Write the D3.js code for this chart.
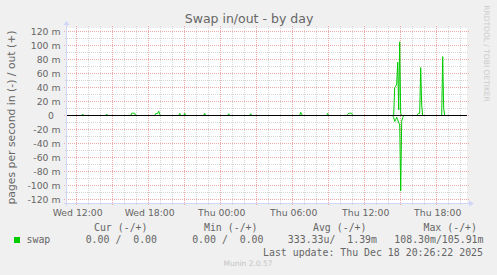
<!DOCTYPE html>
<html>
<head>
<meta charset="utf-8">
<script src="https://cdn.jsdelivr.net/npm/d3@7"></script>
<style>
  body { margin: 0; background: #f0f0f0; }
  svg { display: block; }
  text { font-family: "DejaVu Sans", sans-serif; fill: #666; }
  .mono { font-family: "DejaVu Sans Mono", monospace; white-space: pre; }
</style>
</head>
<body>
<div id="chart"></div>
<script>
// swap out (+), pages per second, milli units; samples not listed are 0
const outTimes = [
  "2025-12-17 12:30", "2025-12-17 14:30",
  "2025-12-17 16:35", "2025-12-17 16:40", "2025-12-17 16:45", "2025-12-17 16:50",
  "2025-12-17 18:35", "2025-12-17 18:40", "2025-12-17 18:45", "2025-12-17 18:50", "2025-12-17 18:55",
  "2025-12-17 20:35", "2025-12-17 21:00", "2025-12-17 22:40",
  "2025-12-18 00:40", "2025-12-18 02:30", "2025-12-18 06:40", "2025-12-18 06:45", "2025-12-18 08:55",
  "2025-12-18 10:35", "2025-12-18 10:40", "2025-12-18 10:45", "2025-12-18 10:50", "2025-12-18 10:55",
  "2025-12-18 14:30", "2025-12-18 14:35", "2025-12-18 14:40", "2025-12-18 14:45", "2025-12-18 14:50",
  "2025-12-18 14:55", "2025-12-18 15:00",
  "2025-12-18 16:25", "2025-12-18 16:30", "2025-12-18 16:35", "2025-12-18 16:40", "2025-12-18 16:45",
  "2025-12-18 18:30", "2025-12-18 18:35"
];
const outValues = [
  2, 2,
  3.3, 3.3, 3.3, 3.3,
  2.9, 2.9, 2.9, 6.2, 2,
  3, 3, 3,
  2.5, 2.5, 4.5, 2, 3,
  1.5, 3.3, 3.3, 3.3, 3.3,
  40, 42, 45, 76.5, 8,
  105.9, 3,
  2, 3, 3, 68.8, 15,
  84.6, 10
];
// swap in (-)
const inTimes = [
  "2025-12-18 14:25", "2025-12-18 14:30", "2025-12-18 14:35", "2025-12-18 14:40", "2025-12-18 14:45",
  "2025-12-18 14:50", "2025-12-18 14:55", "2025-12-18 15:00", "2025-12-18 15:05", "2025-12-18 15:10"
];
const inValues = [3, 8.6, 6, 2.5, 6, 11, 12, 108.3, 8, 3];

const yTicks = [-120, -100, -80, -60, -40, -20, 0, 20, 40, 60, 80, 100, 120];
const xTickTimes = ["2025-12-17 12:00", "2025-12-17 18:00", "2025-12-18 00:00",
                    "2025-12-18 06:00", "2025-12-18 12:00", "2025-12-18 18:00"];
const legendHeaders = ["Cur (-/+)", "Min (-/+)", "Avg (-/+)", "Max (-/+)"];
const swapStats = ["0.00 /  0.00", "0.00 /  0.00", "333.33u/  1.39m", "108.30m/105.91m"];
const lastUpdate = "Last update: Thu Dec 18 20:26:22 2025";

const W = 497, H = 275;
const plotLeft = 67, plotTop = 28, plotW = 400, plotH = 175;
const green = "#00cc00";

const parseT = d3.timeParse("%Y-%m-%d %H:%M");
const keyT = d3.timeFormat("%Y-%m-%d %H:%M");

// graph window: 400 samples of 5 minutes
const start = new Date(2025, 11, 17, 11, 11, 30);
const end = new Date(+start + 400 * 5 * 60 * 1000);

const outMap = new Map(outTimes.map((t, i) => [t, outValues[i]]));
const inMap = new Map(inTimes.map((t, i) => [t, inValues[i]]));
const sampleTimes = d3.timeMinute.every(5).range(start, end);
const outSeries = sampleTimes.map(t => ({t, v: outMap.get(keyT(t)) || 0}));
const inSeries = sampleTimes.map(t => ({t, v: -(inMap.get(keyT(t)) || 0)}));

const x = d3.scaleTime().domain([start, end]).range([plotLeft, plotLeft + plotW]);
const y = d3.scaleLinear().domain([-125.7, 125.7]).range([plotTop + plotH, plotTop]);

const svg = d3.select("#chart").append("svg").attr("width", W).attr("height", H);
svg.append("rect").attr("width", W).attr("height", H).attr("fill", "#f0f0f0");
svg.append("rect").attr("x", plotLeft).attr("y", plotTop).attr("width", plotW).attr("height", plotH).attr("fill", "#fff");

// grid
const grid = svg.append("g");
const px = v => Math.floor(x(v)) + 0.5;
const py = v => Math.floor(y(v)) + 0.5;
const minorX = d3.timeHour.every(1).range(start, end).filter(t => t.getHours() % 3 !== 0);
const majorX = d3.timeHour.every(3).range(start, end);
const minorY = d3.range(-120, 121, 10).filter(v => v % 20 !== 0);
const minorCol = "#d6d6d6", majorCol = "#eeaaaa";

grid.selectAll(".vmin").data(minorX).join("line")
  .attr("x1", px).attr("x2", px).attr("y1", plotTop - 2).attr("y2", plotTop + plotH + 2)
  .attr("stroke", minorCol).attr("stroke-dasharray", "1,1");
grid.selectAll(".hmin").data(minorY).join("line")
  .attr("x1", plotLeft - 2).attr("x2", plotLeft + plotW + 2).attr("y1", py).attr("y2", py)
  .attr("stroke", minorCol).attr("stroke-dasharray", "1,1");
grid.selectAll(".vmaj").data(majorX).join("line")
  .attr("x1", px).attr("x2", px).attr("y1", plotTop - 2).attr("y2", plotTop + plotH + 3)
  .attr("stroke", majorCol).attr("stroke-dasharray", "1,1");
grid.selectAll(".hmaj").data(yTicks).join("line")
  .attr("x1", plotLeft - 3).attr("x2", plotLeft + plotW + 2).attr("y1", py).attr("y2", py)
  .attr("stroke", majorCol).attr("stroke-dasharray", "1,1");

// data
const line = d3.line().x(d => x(d.t)).y(d => y(d.v));
svg.append("path").datum(inSeries).attr("d", line)
  .attr("fill", "none").attr("stroke", green).attr("stroke-width", 1);
svg.append("path").datum(outSeries).attr("d", line)
  .attr("fill", "none").attr("stroke", green).attr("stroke-width", 1);

// zero line
svg.append("line").attr("x1", plotLeft).attr("x2", plotLeft + plotW)
  .attr("y1", py(0)).attr("y2", py(0)).attr("stroke", "#000");

// axes lines with arrows
const axisCol = "#cfd6f8";
svg.append("line").attr("x1", plotLeft - 0.5).attr("x2", plotLeft - 0.5)
  .attr("y1", plotTop + plotH + 3).attr("y2", plotTop - 4).attr("stroke", axisCol);
svg.append("path").attr("d", `M${plotLeft - 3.5},${plotTop - 3} L${plotLeft + 2.5},${plotTop - 3} L${plotLeft - 0.5},${plotTop - 7} Z`)
  .attr("fill", axisCol);
svg.append("line").attr("x1", plotLeft - 3).attr("x2", plotLeft + plotW + 4)
  .attr("y1", plotTop + plotH + 0.5).attr("y2", plotTop + plotH + 0.5).attr("stroke", axisCol);
svg.append("path").attr("d", `M${plotLeft + plotW + 2},${plotTop + plotH - 2.5} L${plotLeft + plotW + 2},${plotTop + plotH + 3.5} L${plotLeft + plotW + 7},${plotTop + plotH + 0.5} Z`)
  .attr("fill", axisCol);

// y axis labels
const yAxis = svg.append("g").attr("transform", `translate(${plotLeft},0)`)
  .call(d3.axisLeft(y).tickValues(yTicks).tickSize(0).tickPadding(6.5)
    .tickFormat(v => v === 0 ? "0" : v + " m"));
yAxis.select(".domain").remove();
yAxis.selectAll("text").style("font-size", "9.3px").style("font-family", "DejaVu Sans").attr("fill", "#666")
  .attr("dx", v => v === 0 ? -6.5 : 0);

// x axis labels
const xAxis = svg.append("g").attr("transform", `translate(0,${plotTop + plotH})`)
  .call(d3.axisBottom(x).tickValues(xTickTimes.map(parseT)).tickSize(0).tickPadding(6)
    .tickFormat(d3.timeFormat("%a %H:%M")));
xAxis.select(".domain").remove();
xAxis.selectAll("text").style("font-size", "9.3px").style("font-family", "DejaVu Sans").attr("fill", "#666")
  .attr("dx", 0.5);

// title and y label
svg.append("text").attr("x", 249).attr("y", 23).attr("text-anchor", "middle")
  .style("font-size", "12.5px").text("Swap in/out - by day");
svg.append("text").attr("transform", "translate(14.5,117.5) rotate(-90)").attr("text-anchor", "middle")
  .style("font-size", "10.8px").text("pages per second in (-) / out (+)");

// watermark
svg.append("text").attr("transform", "translate(484,53.5) rotate(90)").attr("text-anchor", "middle")
  .style("font-size", "7.5px").style("fill", "#ccc").text("RRDTOOL / TOBI OETIKER");

// legend
const headerEnds = [147.5, 257.5, 366.5, 477];
const statEnds = [157, 263.5, 377, 483.5];
svg.selectAll(".hdr").data(legendHeaders).join("text").attr("class", "mono")
  .attr("x", (d, i) => headerEnds[i]).attr("y", 231).attr("text-anchor", "end")
  .style("font-size", "9.9px").text(d => d);
svg.append("rect").attr("x", 14).attr("y", 237).attr("width", 6).attr("height", 6).attr("fill", green);
svg.append("text").attr("class", "mono").attr("x", 26.5).attr("y", 243.3)
  .style("font-size", "9.9px").text("swap");
svg.selectAll(".stat").data(swapStats).join("text").attr("class", "mono")
  .attr("x", (d, i) => statEnds[i]).attr("y", 243.3).attr("text-anchor", "end")
  .style("font-size", "9.9px").text(d => d);
svg.append("text").attr("class", "mono").attr("x", 483).attr("y", 255.5).attr("text-anchor", "end")
  .style("font-size", "9.9px").text(lastUpdate);
svg.append("text").attr("x", 248).attr("y", 266).attr("text-anchor", "middle")
  .style("font-size", "7.5px").style("fill", "#c4c4c4").text("Munin 2.0.57");
</script>
</body>
</html>
